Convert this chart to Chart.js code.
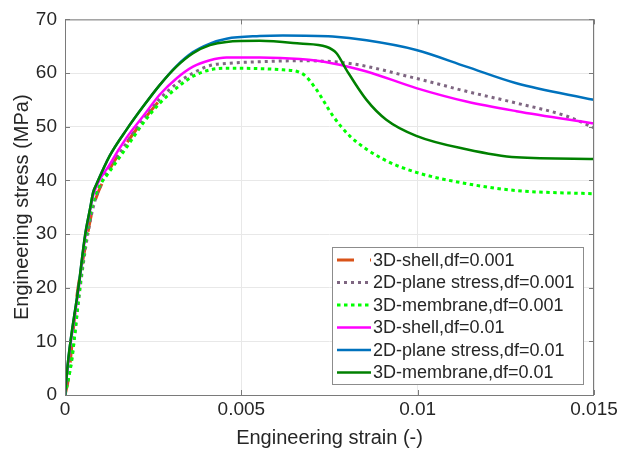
<!DOCTYPE html>
<html>
<head>
<meta charset="utf-8">
<script src="https://cdn.jsdelivr.net/npm/chart.js@4/dist/chart.umd.min.js"></script>
<style>
    html, body { margin: 0; padding: 0; background: #fff; }
    #wrap { width: 621px; height: 453px; }
</style>
</head>
<body>
<div id="wrap"><canvas id="stressChart" width="621" height="453"></canvas></div>
<script>
// Values (strain -, stress MPa)
const shell001Strain = [0, 0.00009, 0.00033, 0.00057, 0.0008, 0.00127, 0.00175, 0.00222, 0.00269];
const shell001Stress = [0, 2.8, 18.1, 27.4, 35.0, 42.1, 47.0, 51.2, 55.0];

const plane001Strain = [0, 0.00019, 0.00042, 0.00061, 0.0008, 0.00104, 0.00175, 0.00222, 0.00269, 0.00316, 0.00363, 0.00411, 0.00458, 0.00552, 0.00666, 0.00807, 0.00996, 0.01138, 0.0128, 0.01421, 0.015];
const plane001Stress = [0, 6.5, 19.5, 28.5, 35, 39.5, 47, 51.5, 55.2, 58.0, 60.0, 61.4, 61.8, 62.1, 62.3, 61.8, 59.0, 56.6, 54.4, 52.0, 49.8];

const membrane001Strain = [0, 0.00019, 0.00042, 0.00061, 0.0008, 0.00104, 0.00118, 0.00175, 0.00222, 0.00269, 0.00316, 0.00363, 0.00411, 0.00458, 0.00618, 0.00675, 0.00713, 0.0076, 0.00807, 0.00901, 0.00996, 0.01138, 0.0128, 0.015];
const membrane001Stress = [0, 6.5, 20, 29.8, 36, 39.7, 40.9, 46.2, 50.7, 54.4, 57.2, 59.4, 60.6, 60.9, 60.6, 59.8, 56.9, 52.0, 48.3, 44.0, 41.5, 39.4, 38.1, 37.5];

const shell01Strain = [0, 0.00009, 0.00038, 0.00057, 0.00071, 0.0008, 0.00127, 0.00175, 0.00222, 0.00269, 0.00316, 0.00363, 0.00411, 0.00458, 0.00552, 0.00666, 0.0076, 0.00855, 0.00996, 0.01138, 0.0128, 0.015];
const shell01Stress = [0, 6.0, 19.5, 29.3, 34.3, 37.2, 43.0, 48.0, 52.0, 56.0, 59.0, 61.2, 62.4, 62.9, 62.9, 62.6, 61.8, 60.3, 57.2, 54.7, 52.9, 50.6];

const plane01Strain = [0, 0.00009, 0.00038, 0.00057, 0.00071, 0.0008, 0.0009, 0.00127, 0.00175, 0.00222, 0.00269, 0.00316, 0.00363, 0.00411, 0.00458, 0.00552, 0.00618, 0.00759, 0.00855, 0.00996, 0.01138, 0.0128, 0.015];
const plane01Stress = [0, 6.5, 20, 29.8, 34.7, 37.8, 39.4, 44.6, 49.5, 53.8, 57.8, 61.3, 63.9, 65.5, 66.4, 66.9, 67.0, 66.8, 66.1, 64.3, 61.2, 58.1, 55.0];

const membrane01Strain = [0, 0.00009, 0.00038, 0.00057, 0.00071, 0.0008, 0.0009, 0.00127, 0.00175, 0.00222, 0.00269, 0.00316, 0.00363, 0.00411, 0.00458, 0.00552, 0.00666, 0.00741, 0.0077, 0.00798, 0.00855, 0.00911, 0.00996, 0.01138, 0.0128, 0.015];
const membrane01Stress = [0, 6.5, 20, 29.8, 34.7, 37.8, 39.4, 44.6, 49.5, 53.8, 57.8, 61.2, 63.7, 65.2, 65.8, 66.0, 65.5, 64.9, 63.7, 60.6, 55.0, 51.3, 48.3, 45.8, 44.3, 44.0];

const xTicks = [0, 0.005, 0.01, 0.015];
const xTickLabels = ['0', '0.005', '0.01', '0.015'];

const textColor = '#262626';
const fontFamily = "'Liberation Sans', Arial, sans-serif";

const toPoints = (xs, ys) => xs.map((x, i) => ({ x: x, y: ys[i] }));

const series = [
    { label: '3D-shell,df=0.001', xs: shell001Strain, ys: shell001Stress, color: '#D95319', dash: [17, 16], width: 3 },
    { label: '2D-plane stress,df=0.001', xs: plane001Strain, ys: plane001Stress, color: '#7E6681', dash: [3, 4], width: 3 },
    { label: '3D-membrane,df=0.001', xs: membrane001Strain, ys: membrane001Stress, color: '#00FF00', dash: [3.5, 3.5], width: 3 },
    { label: '3D-shell,df=0.01', xs: shell01Strain, ys: shell01Stress, color: '#FF00FF', dash: [], width: 2.5 },
    { label: '2D-plane stress,df=0.01', xs: plane01Strain, ys: plane01Stress, color: '#0072BD', dash: [], width: 2.5 },
    { label: '3D-membrane,df=0.01', xs: membrane01Strain, ys: membrane01Stress, color: '#008000', dash: [], width: 2.5 },
];

// box, inward ticks and legend like a MATLAB axes
const axesDecor = {
    id: 'axesDecor',
    afterDatasetsDraw(chart) {
        const { ctx, chartArea: a, scales } = chart;
        ctx.save();
        ctx.strokeStyle = '#7a7a7a';
        ctx.lineWidth = 1;
        ctx.strokeRect(a.left + 0.5, a.top + 0.5, a.right - a.left - 1, a.bottom - a.top);
        ctx.beginPath();
        xTicks.forEach(v => {
            const px = Math.round(scales.x.getPixelForValue(v)) + 0.5;
            ctx.moveTo(px, a.bottom); ctx.lineTo(px, a.bottom - 5);
            ctx.moveTo(px, a.top); ctx.lineTo(px, a.top + 5);
        });
        for (let v = 0; v <= 70; v += 10) {
            const py = Math.round(scales.y.getPixelForValue(v)) + 0.5;
            ctx.moveTo(a.left, py); ctx.lineTo(a.left + 5, py);
            ctx.moveTo(a.right, py); ctx.lineTo(a.right - 5, py);
        }
        ctx.stroke();

        // legend
        const bx = 332, by = 247, bw = 251, bh = 137;
        ctx.fillStyle = '#fff';
        ctx.fillRect(bx, by, bw, bh);
        ctx.strokeStyle = '#8c8c8c';
        ctx.strokeRect(bx + 0.5, by + 0.5, bw, bh);
        ctx.font = '18px ' + fontFamily;
        ctx.textBaseline = 'middle';
        ctx.textAlign = 'left';
        chart.data.datasets.forEach((ds, i) => {
            const y = by + 13 + i * 22.5;
            ctx.strokeStyle = ds.borderColor;
            ctx.lineWidth = ds.borderWidth;
            ctx.setLineDash(ds.borderDash || []);
            ctx.beginPath();
            ctx.moveTo(bx + 5, y);
            ctx.lineTo(bx + 39, y);
            ctx.stroke();
            ctx.setLineDash([]);
            ctx.fillStyle = textColor;
            ctx.fillText(ds.label, bx + 41, y + 1);
        });
        ctx.restore();
    }
};

const ctx = document.getElementById('stressChart').getContext('2d');
new Chart(ctx, {
    type: 'line',
    data: {
        datasets: series.map((s, i) => ({
            label: s.label,
            data: toPoints(s.xs, s.ys),
            borderColor: s.color,
            backgroundColor: s.color,
            borderWidth: s.width,
            borderDash: s.dash,
            pointRadius: 0,
            fill: false,
            cubicInterpolationMode: 'monotone',
            order: series.length - i, // later series drawn on top
        })),
    },
    options: {
        responsive: false,
        animation: false,
        layout: { padding: { top: 16, right: 27, left: 0, bottom: 0 } },
        plugins: {
            legend: { display: false },
            tooltip: { enabled: false },
        },
        scales: {
            x: {
                type: 'linear',
                min: 0,
                max: 0.015,
                afterFit: (scale) => { scale.height = 58; },
                afterBuildTicks: (scale) => { scale.ticks = xTicks.map(v => ({ value: v })); },
                ticks: {
                    color: textColor,
                    font: { family: fontFamily, size: 19 },
                    padding: 3,
                    maxRotation: 0,
                    callback: (v) => xTickLabels[xTicks.indexOf(v)] ?? '',
                },
                grid: { color: '#e8e8e8', drawTicks: false },
                border: { display: false },
                title: {
                    display: true,
                    text: 'Engineering strain (-)',
                    color: textColor,
                    font: { family: fontFamily, size: 20 },
                    padding: { top: 0, bottom: 3 },
                },
            },
            y: {
                min: 0,
                max: 70,
                afterFit: (scale) => { scale.width = 65; },
                ticks: {
                    stepSize: 10,
                    color: textColor,
                    font: { family: fontFamily, size: 19 },
                    padding: 8,
                },
                grid: { color: '#e8e8e8', drawTicks: false },
                border: { display: false },
                title: {
                    display: true,
                    text: 'Engineering stress (MPa)',
                    color: textColor,
                    font: { family: fontFamily, size: 20 },
                    padding: { top: 10, bottom: 0 },
                },
            },
        },
    },
    plugins: [axesDecor],
});
</script>
</body>
</html>
